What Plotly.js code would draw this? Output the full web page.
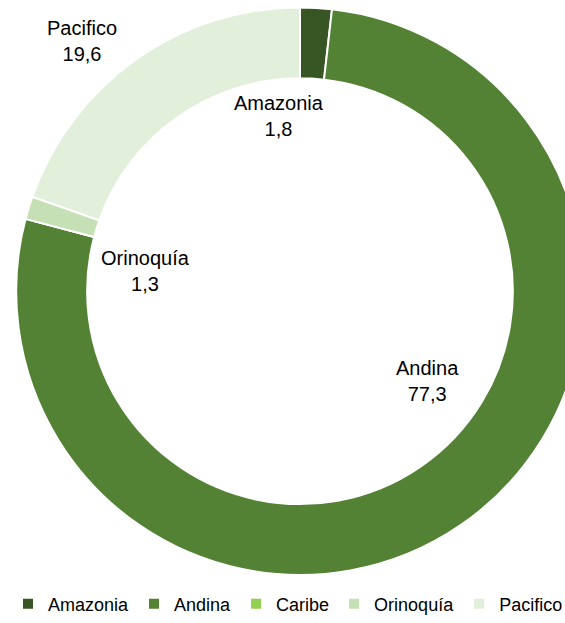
<!DOCTYPE html>
<html>
<head>
<meta charset="utf-8">
<script src="https://cdn.plot.ly/plotly-3.0.1.min.js"></script>
<style>
html, body { margin: 0; padding: 0; overflow: hidden; background: #fff; }
#chart { width: 600px; height: 623px; }
</style>
</head>
<body>
<div id="chart"></div>
<script>
const regions = ["Amazonia", "Andina", "Caribe", "Orinoquía", "Pacifico"];
const shares = [1.8, 77.3, 0, 1.3, 19.6];
const colors = ["#375623", "#548235", "#92D050", "#C5E0B4", "#E2EFDA"];

// label positions (paper coordinates) for the labelled regions
const labelPos = {
  "Amazonia": [0.465, 0.812],
  "Andina": [0.712, 0.380],
  "Orinoquía": [0.243, 0.560],
  "Pacifico": [0.137, 0.934]
};

const W = 600, H = 623;
const fontFam = "'Liberation Sans', Arial, sans-serif";

const annotations = regions.filter(r => labelPos[r]).map(r => {
  const v = shares[regions.indexOf(r)];
  return {
    xref: "paper", yref: "paper",
    x: labelPos[r][0], y: labelPos[r][1],
    xanchor: "center", yanchor: "middle",
    showarrow: false,
    text: r + "<br>" + v.toFixed(1).replace(".", ","),
    font: { family: fontFam, size: 20, color: "#000" }
  };
});

const data = [{
  type: "pie",
  labels: regions,
  values: shares,
  hole: 0.75,
  sort: false,
  direction: "clockwise",
  rotation: 0,
  textinfo: "none",
  hoverinfo: "label+value",
  marker: { colors: colors, line: { color: "#ffffff", width: 2 } },
  domain: { x: [12.5 / W, 587.5 / W], y: [1 - 582.5 / H, 1 - 7.5 / H] }
}];

const layout = {
  width: W, height: H,
  margin: { l: 0, r: 0, t: 0, b: 0 },
  paper_bgcolor: "#ffffff",
  showlegend: true,
  legend: {
    orientation: "h",
    x: 8 / W, xanchor: "left",
    y: 1 - 612 / H, yanchor: "middle",
    font: { family: fontFam, size: 18, color: "#000" },
    traceorder: "normal"
  },
  annotations: annotations
};

Plotly.newPlot("chart", data, layout, { displayModeBar: false, staticPlot: true });
</script>
</body>
</html>
